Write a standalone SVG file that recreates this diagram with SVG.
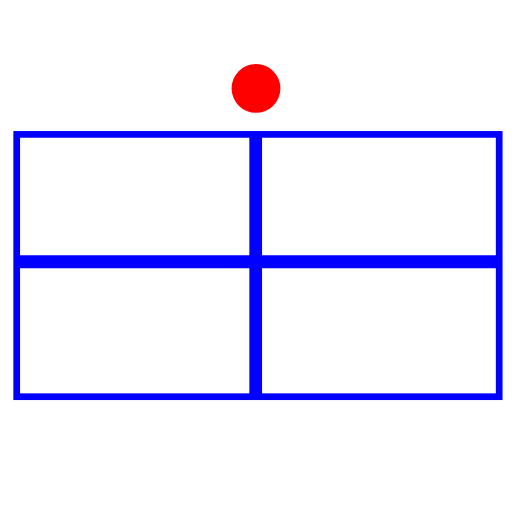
<svg xmlns="http://www.w3.org/2000/svg" width="512" height="512" viewBox="0 0 512 512">
<style>.b{stroke:#0000ff;fill:none}</style>
<rect width="512" height="512" fill="#fff"/>
<g id="frame">
<rect class="b" x="16.7" y="134.4" width="482.5" height="262.3" stroke-width="6.7"/>
</g>
<g id="dividers">
<line class="b" x1="255.7" y1="134.4" x2="255.7" y2="396.7" stroke-width="12.7"/>
<line class="b" x1="16.7" y1="261.7" x2="499.2" y2="261.7" stroke-width="13"/>
</g>
<g id="dot">
<circle cx="256" cy="88.4" r="24.4" fill="#ff0000"/>
</g>
</svg>
